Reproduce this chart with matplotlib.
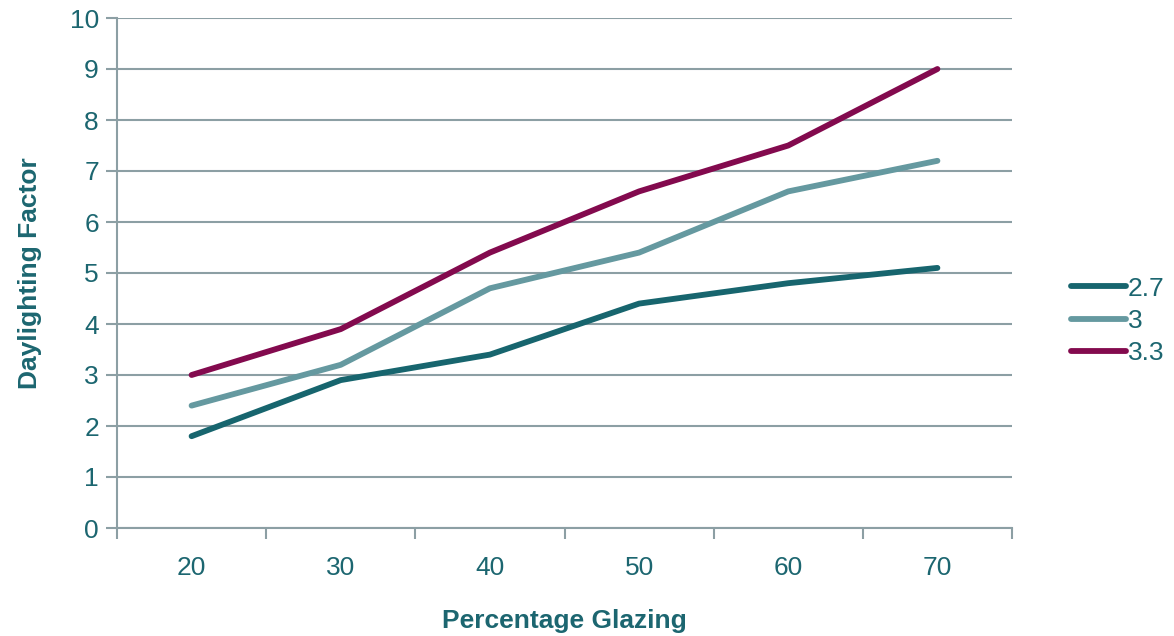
import matplotlib
matplotlib.use("Agg")
import matplotlib.pyplot as plt
from matplotlib.ticker import FixedLocator

plt.rcParams['font.family'] = ['Liberation Sans', 'DejaVu Sans']

glazing = [20, 30, 40, 50, 60, 70]
series_names = ["2.7", "3", "3.3"]
df_27 = [1.8, 2.9, 3.4, 4.4, 4.8, 5.1]
df_30 = [2.4, 3.2, 4.7, 5.4, 6.6, 7.2]
df_33 = [3.0, 3.9, 5.4, 6.6, 7.5, 9.0]

colors = ["#17656e", "#6599a0", "#830a4e"]
text_c = "#1c6670"
grid_c = "#8c9fa4"
fs = 19

fig = plt.figure(figsize=(11.74, 6.36), dpi=100)
ax = fig.add_axes([117 / 1174, 1 - 528 / 636, (1012 - 117) / 1174, (528 - 18) / 636])

x = list(range(len(glazing)))
for vals, name, c in zip([df_27, df_30, df_33], series_names, colors):
    ax.plot(x, vals, color=c, lw=4.2, label=name, solid_capstyle='round',
            solid_joinstyle='round')

ax.set_xlim(-0.5, len(glazing) - 0.5)
ax.set_ylim(0, 10)
ax.set_yticks(range(0, 11))
ax.set_xticks(x)
ax.set_xticklabels([str(g) for g in glazing])
ax.xaxis.set_minor_locator(FixedLocator([i - 0.5 for i in range(len(glazing) + 1)]))
ax.tick_params(axis='x', which='major', length=0, pad=20, labelsize=fs, labelcolor=text_c)
ax.tick_params(axis='x', which='minor', length=8, width=1.5, color=grid_c)
ax.tick_params(axis='y', length=8, width=1.5, color=grid_c, pad=5, labelsize=fs,
               labelcolor=text_c)

ax.grid(axis='y', color=grid_c, lw=1.5)
ax.set_axisbelow(True)
for s in ['top', 'right']:
    ax.spines[s].set_visible(False)
ax.spines['left'].set_color(grid_c)
ax.spines['left'].set_linewidth(1.5)
ax.spines['bottom'].set_color(grid_c)
ax.spines['bottom'].set_linewidth(1.5)

ax.set_xlabel("Percentage Glazing", fontsize=fs, fontweight='bold', color=text_c, labelpad=21)
ax.set_ylabel("Daylighting Factor", fontsize=fs, fontweight='bold', color=text_c, labelpad=20)

leg = fig.legend(loc='center left', bbox_to_anchor=(1047 / 1174, 1 - 321 / 636),
                 frameon=False, fontsize=fs, handlelength=2.1, handletextpad=0.05,
                 labelspacing=0.32)
for t in leg.get_texts():
    t.set_color(text_c)

fig.savefig("out.png", dpi=100)
